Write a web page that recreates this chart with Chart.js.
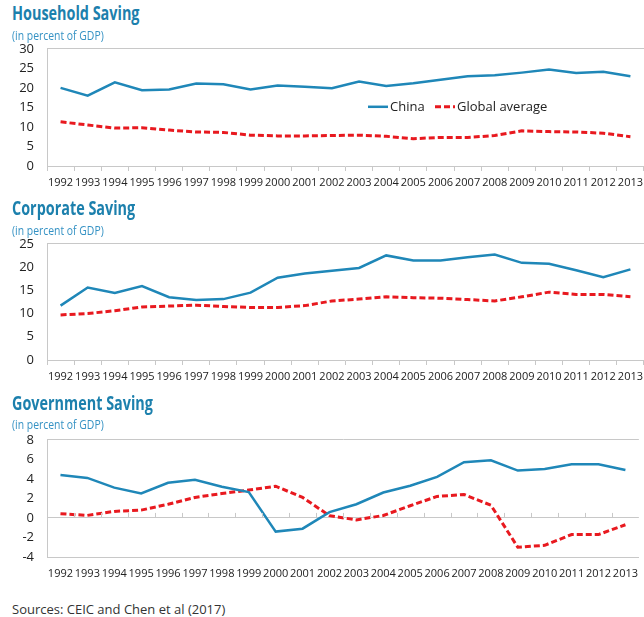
<!DOCTYPE html>
<html>
<head>
<meta charset="utf-8">
<script src="https://cdn.jsdelivr.net/npm/chart.js@4.4.1/dist/chart.umd.min.js"></script>
<style>
  html, body { margin: 0; padding: 0; background: #fff; overflow: hidden; width: 644px; height: 617px; }
  canvas { position: absolute; left: 0; }
  .title { position: absolute; left: 12px; font-family: "Open Sans"; font-weight: 700; font-size: 20px;
           color: #1c80ad; transform: scaleX(0.72); transform-origin: left top; white-space: nowrap; line-height: 1; z-index: 2; }
  .sub { position: absolute; left: 12px; font-family: "Open Sans"; font-size: 13px; color: #3592c4;
         transform: scaleX(0.8); transform-origin: left top; white-space: nowrap; line-height: 1; z-index: 2; }
  .src { position: absolute; left: 12px; top: 603px; font-family: "Open Sans"; font-size: 13px; color: #333;
         white-space: nowrap; line-height: 1; }
</style>
</head>
<body>
<div class="title" style="top:3px">Household Saving</div>
<div class="sub" style="top:29px">(in percent of GDP)</div>
<canvas id="household" width="648" height="168" style="top:28px"></canvas>

<div class="title" style="top:198px">Corporate Saving</div>
<div class="sub" style="top:224px">(in percent of GDP)</div>
<canvas id="corporate" width="648" height="167" style="top:223px"></canvas>

<div class="title" style="top:393px">Government Saving</div>
<div class="sub" style="top:418px">(in percent of GDP)</div>
<canvas id="government" width="648" height="168" style="top:419px"></canvas>

<div class="src">Sources: CEIC and Chen et al (2017)</div>

<script>
const years = ["1992", "1993", "1994", "1995", "1996", "1997", "1998", "1999", "2000", "2001", "2002",
  "2003", "2004", "2005", "2006", "2007", "2008", "2009", "2010", "2011", "2012", "2013"];

const householdChina = [20.0, 18.0, 21.4, 19.4, 19.6, 21.1, 20.9, 19.6, 20.6, 20.3, 19.9,
  21.6, 20.5, 21.2, 22.1, 23.0, 23.2, 23.9, 24.7, 23.8, 24.1, 23.0];
const householdGlobal = [11.3, 10.5, 9.7, 9.8, 9.2, 8.7, 8.6, 7.9, 7.7, 7.7, 7.8,
  7.9, 7.6, 7.0, 7.3, 7.3, 7.8, 9.0, 8.8, 8.7, 8.4, 7.5];

const corporateChina = [11.7, 15.6, 14.4, 15.9, 13.5, 12.9, 13.1, 14.5, 17.7, 18.6, 19.2,
  19.8, 22.5, 21.4, 21.4, 22.1, 22.7, 20.9, 20.7, 19.3, 17.8, 19.5];
const corporateGlobal = [9.7, 10.0, 10.6, 11.4, 11.6, 11.8, 11.5, 11.3, 11.3, 11.7, 12.7,
  13.1, 13.6, 13.4, 13.3, 13.0, 12.7, 13.6, 14.6, 14.1, 14.1, 13.6];

const governmentChina = [4.4, 4.1, 3.1, 2.5, 3.6, 3.9, 3.2, 2.65, -1.4, -1.1, 0.6,
  1.4, 2.6, 3.3, 4.2, 5.7, 5.9, 4.85, 5.0, 5.5, 5.5, 4.9];
const governmentGlobal = [0.43, 0.26, 0.67, 0.8, 1.4, 2.1, 2.5, 2.85, 3.25, 2.1, 0.23,
  -0.2, 0.25, 1.25, 2.2, 2.4, 1.3, -3.0, -2.8, -1.7, -1.7, -0.7];

const seriesNames = ["China", "Global average"];

const blue = "#1f87b8";
const red = "#e8191f";
const gray = "#c8c8c8";
const FONT = "Open Sans";

// legend floating inside the first panel
const floatLegend = {
  id: "floatLegend",
  afterDraw(chart) {
    const ctx = chart.ctx;
    const a = chart.chartArea;
    const x0 = a.left + 321;
    const y0 = a.top + 58;
    ctx.save();
    ctx.font = "13px '" + FONT + "'";
    ctx.textBaseline = "middle";
    ctx.fillStyle = "#222";

    ctx.strokeStyle = blue;
    ctx.lineWidth = 2.5;
    ctx.beginPath();
    ctx.moveTo(x0, y0);
    ctx.lineTo(x0 + 20, y0);
    ctx.stroke();
    ctx.fillText(seriesNames[0], x0 + 22, y0);

    const x1 = x0 + 67;
    ctx.strokeStyle = red;
    ctx.lineWidth = 3;
    ctx.setLineDash([6, 3]);
    ctx.beginPath();
    ctx.moveTo(x1, y0);
    ctx.lineTo(x1 + 20, y0);
    ctx.stroke();
    ctx.setLineDash([]);
    ctx.fillText(seriesNames[1], x1 + 22, y0);
    ctx.restore();
  },
};

// tick marks sitting on the zero line (government panel)
const zeroTicks = {
  id: "zeroTicks",
  afterDatasetsDraw(chart) {
    const x = chart.scales.x;
    const y0 = chart.scales.y.getPixelForValue(0);
    const ctx = chart.ctx;
    ctx.save();
    ctx.strokeStyle = gray;
    ctx.lineWidth = 1;
    ctx.beginPath();
    for (let i = 0; i < years.length - 1; i++) {
      const px = Math.round((x.getPixelForValue(i) + x.getPixelForValue(i + 1)) / 2) + 0.5;
      ctx.moveTo(px, y0);
      ctx.lineTo(px, y0 - 5);
    }
    ctx.stroke();
    ctx.restore();
  },
};

const makeChart = (id, china, global, min, max, step, grayLines, plugins, bottomTicks) => {
  return new Chart(document.getElementById(id).getContext("2d"), {
    type: "line",
    data: {
      labels: years,
      datasets: [
        {
          label: seriesNames[0],
          data: china,
          borderColor: blue,
          borderWidth: 2.5,
          pointRadius: 0,
          tension: 0,
        },
        {
          label: seriesNames[1],
          data: global,
          borderColor: red,
          borderWidth: 3,
          borderDash: [6, 3],
          pointRadius: 0,
          tension: 0,
        },
      ],
    },
    options: {
      responsive: false,
      animation: false,
      layout: { padding: 0 },
      plugins: { legend: { display: false }, tooltip: { enabled: false } },
      scales: {
        x: {
          offset: true,
          afterFit: (s) => { s.height = 30; },
          grid: {
            offset: true,
            drawOnChartArea: false,
            drawTicks: bottomTicks,
            tickLength: 5,
            color: gray,
          },
          border: { color: gray },
          ticks: {
            autoSkip: false,
            maxRotation: 0,
            minRotation: 0,
            padding: bottomTicks ? 5 : 10,
            color: "#222",
            font: { family: FONT, size: 11 },
          },
        },
        y: {
          min: min,
          max: max,
          afterFit: (s) => { s.width = 47; },
          grid: {
            drawTicks: false,
            color: (c) => (grayLines.includes(c.tick.value) ? gray : "rgba(0,0,0,0)"),
          },
          border: { color: gray },
          ticks: {
            autoSkip: false,
            stepSize: step,
            padding: 13,
            color: "#222",
            font: { family: FONT, size: 13 },
          },
        },
      },
    },
    plugins: plugins,
  });
};

makeChart("household", householdChina, householdGlobal, 0, 30, 5, [30], [floatLegend], true);
makeChart("corporate", corporateChina, corporateGlobal, 0, 25, 5, [25], [], true);
makeChart("government", governmentChina, governmentGlobal, -4, 8, 2, [8, 0], [zeroTicks], false);
</script>
</body>
</html>
